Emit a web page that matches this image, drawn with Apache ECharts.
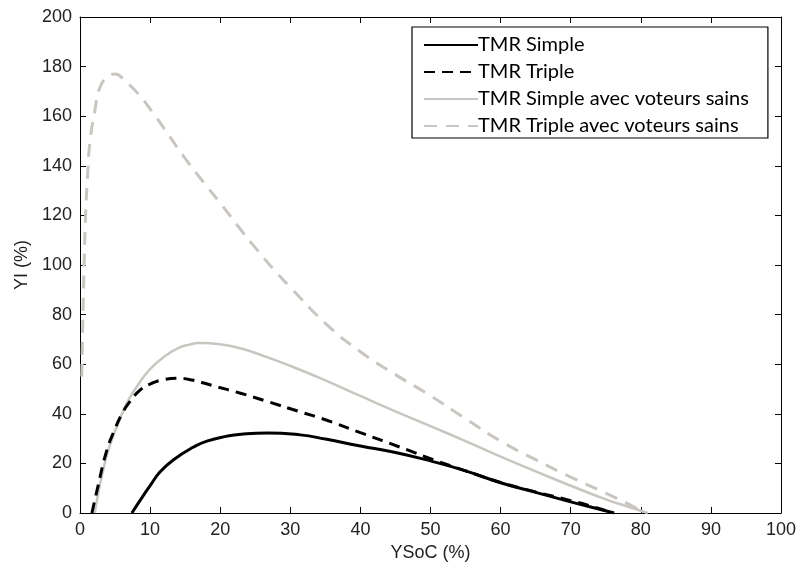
<!DOCTYPE html>
<html>
<head>
<meta charset="utf-8">
<script src="https://cdn.jsdelivr.net/npm/echarts@6/dist/echarts.min.js"></script>
<style>html,body{margin:0;padding:0;background:#fff;}#c{width:801px;height:569px;}</style>
</head>
<body>
<div id="c"></div>
<script>
var seriesNames = ['TMR Simple', 'TMR Triple', 'TMR Simple avec voteurs sains', 'TMR Triple avec voteurs sains'];

var simpleX = [7.4, 8.6, 10, 11.4, 13.3, 16.2, 18.1, 21, 23, 26.7, 31.4, 35, 40, 45, 50, 55, 60, 65, 70, 73, 76.2];
var simpleY = [0, 5.2, 11, 16.5, 21.4, 26.6, 29, 31, 31.8, 32.3, 31.5, 29.8, 27, 24.4, 21, 17, 12.2, 8.3, 4.5, 2.3, 0];

var tripleX = [1.7, 2.5, 3.8, 5, 6, 7, 8.6, 10, 12, 13.8, 16, 19, 22.9, 26.7, 31.4, 35, 40, 45.7, 50.5, 55, 60, 65, 70, 73, 76];
var tripleY = [0, 10, 25, 34, 40, 44.5, 49.6, 52, 53.8, 54.3, 53.6, 51.3, 48.3, 45, 40.8, 37.6, 32.4, 26.5, 21.4, 17, 12.3, 8.5, 5, 2.7, 0];

var simpleSainsX = [2.1, 2.6, 3.2, 4, 5, 6, 7, 8.6, 10, 12, 14, 15.5, 17, 20, 23, 26, 30, 35, 40, 45, 50, 55, 60, 65, 70, 75, 78, 81];
var simpleSainsY = [0, 8, 16, 25, 33, 40, 46, 53, 58, 63, 66.5, 67.8, 68.5, 68, 66.3, 63.5, 59.3, 53.5, 47.2, 41, 35, 29, 22.7, 16.8, 11, 5.5, 2.7, 0];

var tripleSainsX = [0.25, 0.5, 0.8, 1.1, 1.4, 2.1, 2.9, 4, 5, 6.5, 8.3, 10.5, 12.5, 15, 18, 20, 23, 25, 28, 30, 35, 40, 45, 50, 55, 60, 65, 70, 75, 78, 80.5];
var tripleSainsY = [55, 90, 120, 137, 149, 162, 172, 176, 177, 174, 169, 161, 153, 143, 132, 125, 114, 107, 97, 91, 76.5, 65, 55.8, 47.3, 38, 29, 21.5, 14.5, 8, 4, 0];

var xTicks = [0, 10, 20, 30, 40, 50, 60, 70, 80, 90, 100];
var yTicks = [0, 20, 40, 60, 80, 100, 120, 140, 160, 180, 200];

function pairs(xs, ys) { return xs.map(function (x, i) { return [x, ys[i]]; }); }

var axisFont = { fontFamily: 'Liberation Sans Narrow, Arial Narrow, Liberation Sans, sans-serif', fontSize: 18, color: '#222' };
var gray = '#c9c6c1';

var chart = echarts.init(document.getElementById('c'), null, { renderer: 'canvas' });
var baseX = {
  type: 'value', min: xTicks[0], max: xTicks[xTicks.length - 1], interval: 10,
  axisLine: { show: true, onZero: false, lineStyle: { color: '#000', width: 1 } },
  axisTick: { show: true, inside: true, length: 6, lineStyle: { color: '#000' } },
  splitLine: { show: false }
};
var baseY = {
  type: 'value', min: yTicks[0], max: yTicks[yTicks.length - 1], interval: 20,
  axisLine: { show: true, onZero: false, lineStyle: { color: '#000', width: 1 } },
  axisTick: { show: true, inside: true, length: 6, lineStyle: { color: '#000' } },
  splitLine: { show: false }
};

chart.setOption({
  backgroundColor: '#fff',
  animation: false,
  grid: { left: 80, right: 20, top: 17, bottom: 56, containLabel: false },
  xAxis: [
    Object.assign({}, baseX, {
      position: 'bottom', name: 'YSoC (%)', nameLocation: 'middle', nameGap: 30,
      nameTextStyle: axisFont,
      axisLabel: Object.assign({ margin: 8 }, axisFont)
    }),
    Object.assign({}, baseX, { position: 'top', axisLabel: { show: false } })
  ],
  yAxis: [
    Object.assign({}, baseY, {
      position: 'left', name: 'YI (%)', nameLocation: 'middle', nameGap: 48,
      nameTextStyle: axisFont,
      axisLabel: Object.assign({ margin: 8 }, axisFont)
    }),
    Object.assign({}, baseY, { position: 'right', axisLabel: { show: false } })
  ],
  legend: {
    orient: 'vertical', left: 412, top: 27,
    data: seriesNames,
    itemWidth: 54, itemHeight: 12, itemGap: 7,
    padding: [8, 19, 2, 11],
    backgroundColor: '#fff', borderColor: '#000', borderWidth: 1.2, borderRadius: 0,
    itemStyle: { color: 'rgba(0,0,0,0)', borderWidth: 0, opacity: 0 },
    textStyle: { fontFamily: 'Lato, Carlito, sans-serif', fontSize: 20, color: '#000', padding: [0, 0, 0, -5] }
  },
  series: [
    { name: seriesNames[0], type: 'line', data: pairs(simpleX, simpleY), symbol: 'none', smooth: 0.5,
      lineStyle: { color: '#000', width: 3 }, itemStyle: { color: '#000' }, z: 5 },
    { name: seriesNames[1], type: 'line', data: pairs(tripleX, tripleY), symbol: 'none', smooth: 0.5,
      lineStyle: { color: '#000', width: 3, type: [11, 7] }, itemStyle: { color: '#000' }, z: 4 },
    { name: seriesNames[2], type: 'line', data: pairs(simpleSainsX, simpleSainsY), symbol: 'none', smooth: 0.5,
      lineStyle: { color: gray, width: 2.5 }, itemStyle: { color: gray }, z: 3 },
    { name: seriesNames[3], type: 'line', data: pairs(tripleSainsX, tripleSainsY), symbol: 'none', smooth: 0.5,
      lineStyle: { color: gray, width: 3, type: [13, 9] }, itemStyle: { color: gray }, z: 2 }
  ]
});
</script>
</body>
</html>
